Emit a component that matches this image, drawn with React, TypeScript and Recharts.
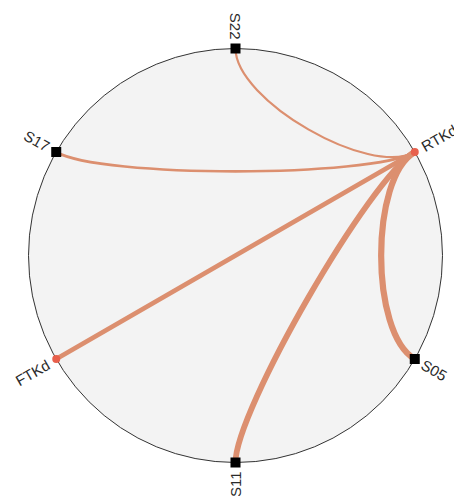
import { ComposedChart, XAxis, YAxis, Scatter, Line } from "recharts";

// nodes are laid out on the ring in this order, counter-clockwise from RTKd
const nodeNames = ["RTKd", "S22", "S17", "FTKd", "S11", "S05"];
const nodeKinds = ["gene", "sample", "sample", "gene", "sample", "sample"];

const edgeSources = ["RTKd", "RTKd", "RTKd", "RTKd", "RTKd"];
const edgeTargets = ["S22", "S17", "FTKd", "S11", "S05"];
const edgeWeights = [2.2, 2.6, 4.8, 5.8, 6.2];

const W = 462;
const H = 504;
const PLOT = 414; // square plot area, domain [-1, 1] on both axes
const LEFT = 28.5;
const TOP = 48.5;
const START_ANGLE = 30;
const BEND = 0.75; // how far the bezier handles sit from the hub toward each end
const LABEL_GAP = 9;
const EDGE_COLOR = "#dc8f6f";

const nodes = nodeNames.map((name, i) => {
  const angle = START_ANGLE + (360 / nodeNames.length) * i;
  const rad = (angle * Math.PI) / 180;
  return { name, kind: nodeKinds[i], angle, x: Math.cos(rad), y: Math.sin(rad) };
});
const hub = { name: "hub", x: 0, y: 0 };
const byName: Record<string, any> = Object.fromEntries(nodes.map((n) => [n.name, n]));

const edges = edgeTargets.map((t, i) => ({
  id: `${edgeSources[i]}-${t}`,
  width: edgeWeights[i],
  data: [byName[edgeSources[i]], hub, byName[t]],
}));

// d3 curve: cubic bezier from first to last point, handles pulled toward the middle (hub) point
function radialCurve(context: any) {
  let pts: number[][] = [];
  return {
    areaStart() {},
    areaEnd() {},
    lineStart() {
      pts = [];
    },
    point(x: number, y: number) {
      pts.push([x, y]);
    },
    lineEnd() {
      if (pts.length < 3) return;
      const [a, c, b] = pts;
      context.moveTo(a[0], a[1]);
      context.bezierCurveTo(
        c[0] + BEND * (a[0] - c[0]),
        c[1] + BEND * (a[1] - c[1]),
        c[0] + BEND * (b[0] - c[0]),
        c[1] + BEND * (b[1] - c[1]),
        b[0],
        b[1]
      );
    },
  };
}

function Ring(props: any) {
  const { cx, cy } = props;
  return <circle cx={cx} cy={cy} r={PLOT / 2} fill="#f3f3f3" stroke="#333" strokeWidth={1} />;
}

function NodeShape(props: any) {
  const { cx, cy, payload } = props;
  const a = payload.angle;
  const rad = (a * Math.PI) / 180;
  const right = Math.cos(rad) > 1e-6;
  const lx = cx + Math.cos(rad) * LABEL_GAP;
  const ly = cy - Math.sin(rad) * LABEL_GAP;
  const rot = right ? -a : 180 - a;
  return (
    <g>
      {payload.kind === "sample" ? (
        <rect x={cx - 5} y={cy - 5} width={10} height={10} fill="#000" />
      ) : (
        <circle cx={cx} cy={cy} r={4} fill="#e8604c" />
      )}
      <text
        x={lx}
        y={ly}
        transform={`rotate(${rot} ${lx} ${ly})`}
        textAnchor={right ? "start" : "end"}
        dominantBaseline="central"
        fontFamily="Liberation Sans, Arial, sans-serif"
        fontSize={15}
        fill="#2a2a2a"
      >
        {payload.name}
      </text>
    </g>
  );
}

export default function App() {
  return (
    <div style={{ width: W, height: H, margin: -8 }}>
      <ComposedChart
        width={W}
        height={H}
        margin={{ left: LEFT, top: TOP, right: W - LEFT - PLOT, bottom: H - TOP - PLOT }}
      >
        <XAxis type="number" dataKey="x" domain={[-1, 1]} hide />
        <YAxis type="number" dataKey="y" domain={[-1, 1]} hide />
        <Scatter data={[hub]} shape={Ring} isAnimationActive={false} zIndex={-10} />
        {edges.map((e) => (
          <Line
            key={e.id}
            data={e.data}
            dataKey="y"
            type={radialCurve as any}
            stroke={EDGE_COLOR}
            strokeWidth={e.width}
            dot={false}
            activeDot={false}
            isAnimationActive={false}
          />
        ))}
        <Scatter data={nodes} shape={NodeShape} isAnimationActive={false} />
      </ComposedChart>
    </div>
  );
}
